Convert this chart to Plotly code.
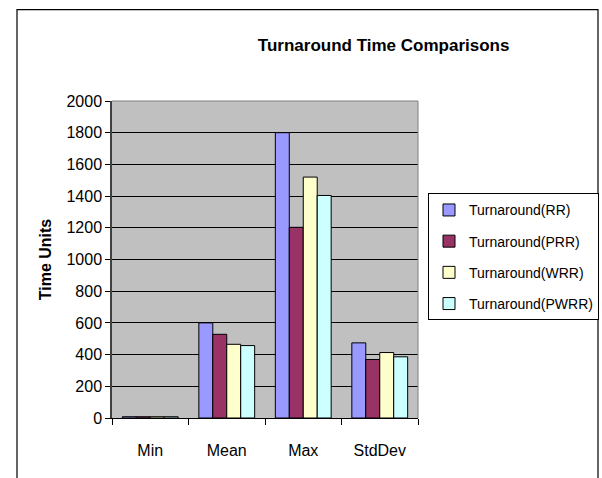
import plotly.graph_objects as go

categories = ["Min", "Mean", "Max", "StdDev"]
series_names = ["Turnaround(RR)", "Turnaround(PRR)", "Turnaround(WRR)", "Turnaround(PWRR)"]
rr = [8, 600, 1800, 474]
prr = [8, 528, 1203, 369]
wrr = [8, 465, 1520, 413]
pwrr = [8, 457, 1404, 386]
colors = ["#9999FF", "#993366", "#FFFFCC", "#CCFFFF"]
y_ticks = [0, 200, 400, 600, 800, 1000, 1200, 1400, 1600, 1800, 2000]

FONT = "Liberation Sans, Arial, sans-serif"

fig = go.Figure()
for i, (name, vals) in enumerate(zip(series_names, [rr, prr, wrr, pwrr])):
    fig.add_trace(go.Bar(
        x=categories, y=vals, name=name,
        marker=dict(color=colors[i], line=dict(color="black", width=1)),
        legendgroup=name,
    ))

W, H = 602, 478
L, R, T, B = 112, 418, 100.5, 418
pw, ph = R - L, B - T

def px_x(p):
    return (p - L) / pw

def px_y(p):
    return (B - p) / ph

fig.update_layout(
    width=W, height=H,
    margin=dict(l=L, r=W - R, t=T, b=H - B, pad=0, autoexpand=False),
    paper_bgcolor="white",
    plot_bgcolor="#C0C0C0",
    font=dict(family=FONT, size=16, color="black"),
    title=dict(text="<b>Turnaround Time Comparisons</b>", x=px_x(307), xanchor="center",
               y=1 - 45 / H, yanchor="middle", font=dict(size=17, family=FONT)),
    barmode="group",
    bargap=0.27,
    bargroupgap=0,
    showlegend=True,
    legend=dict(x=px_x(428), y=px_y(193), xanchor="left", yanchor="top",
                bordercolor="black", borderwidth=1, bgcolor="white",
                font=dict(size=14, family=FONT), tracegroupgap=10,
                traceorder="grouped"),
    xaxis=dict(type="category", showgrid=False, showline=True, linecolor="black", linewidth=1,
               ticks="outside", ticklen=6, tickcolor="black", tickson="boundaries",
               tickfont=dict(size=16), ticklabelstandoff=18, fixedrange=True),
    yaxis=dict(range=[0, 2000], tickvals=y_ticks, showgrid=True, gridcolor="black", gridwidth=1,
               showline=True, linecolor="#404040", linewidth=1.5, ticks="outside", ticklen=5,
               tickcolor="black", tickfont=dict(size=16), zeroline=False, fixedrange=True,
               title=dict(text="<b>Time Units</b>", font=dict(size=16), standoff=11)),
    shapes=[
        dict(type="line", xref="paper", yref="paper", x0=0, x1=1, y0=1, y1=1,
             line=dict(color="#808080", width=1), layer="above"),
        dict(type="line", xref="paper", yref="paper", x0=1, x1=1, y0=0, y1=1,
             line=dict(color="#808080", width=1), layer="above"),
        dict(type="rect", xref="paper", yref="paper", x0=px_x(17), x1=px_x(598),
             y0=px_y(495), y1=px_y(9), line=dict(color="black", width=1.2),
             fillcolor="rgba(0,0,0,0)", layer="above"),
    ],
)

page_fix = "document.body.style.margin='0';document.body.style.overflow='hidden';"
fig.write_html("out.html", post_script=page_fix, config={"displayModeBar": False})
